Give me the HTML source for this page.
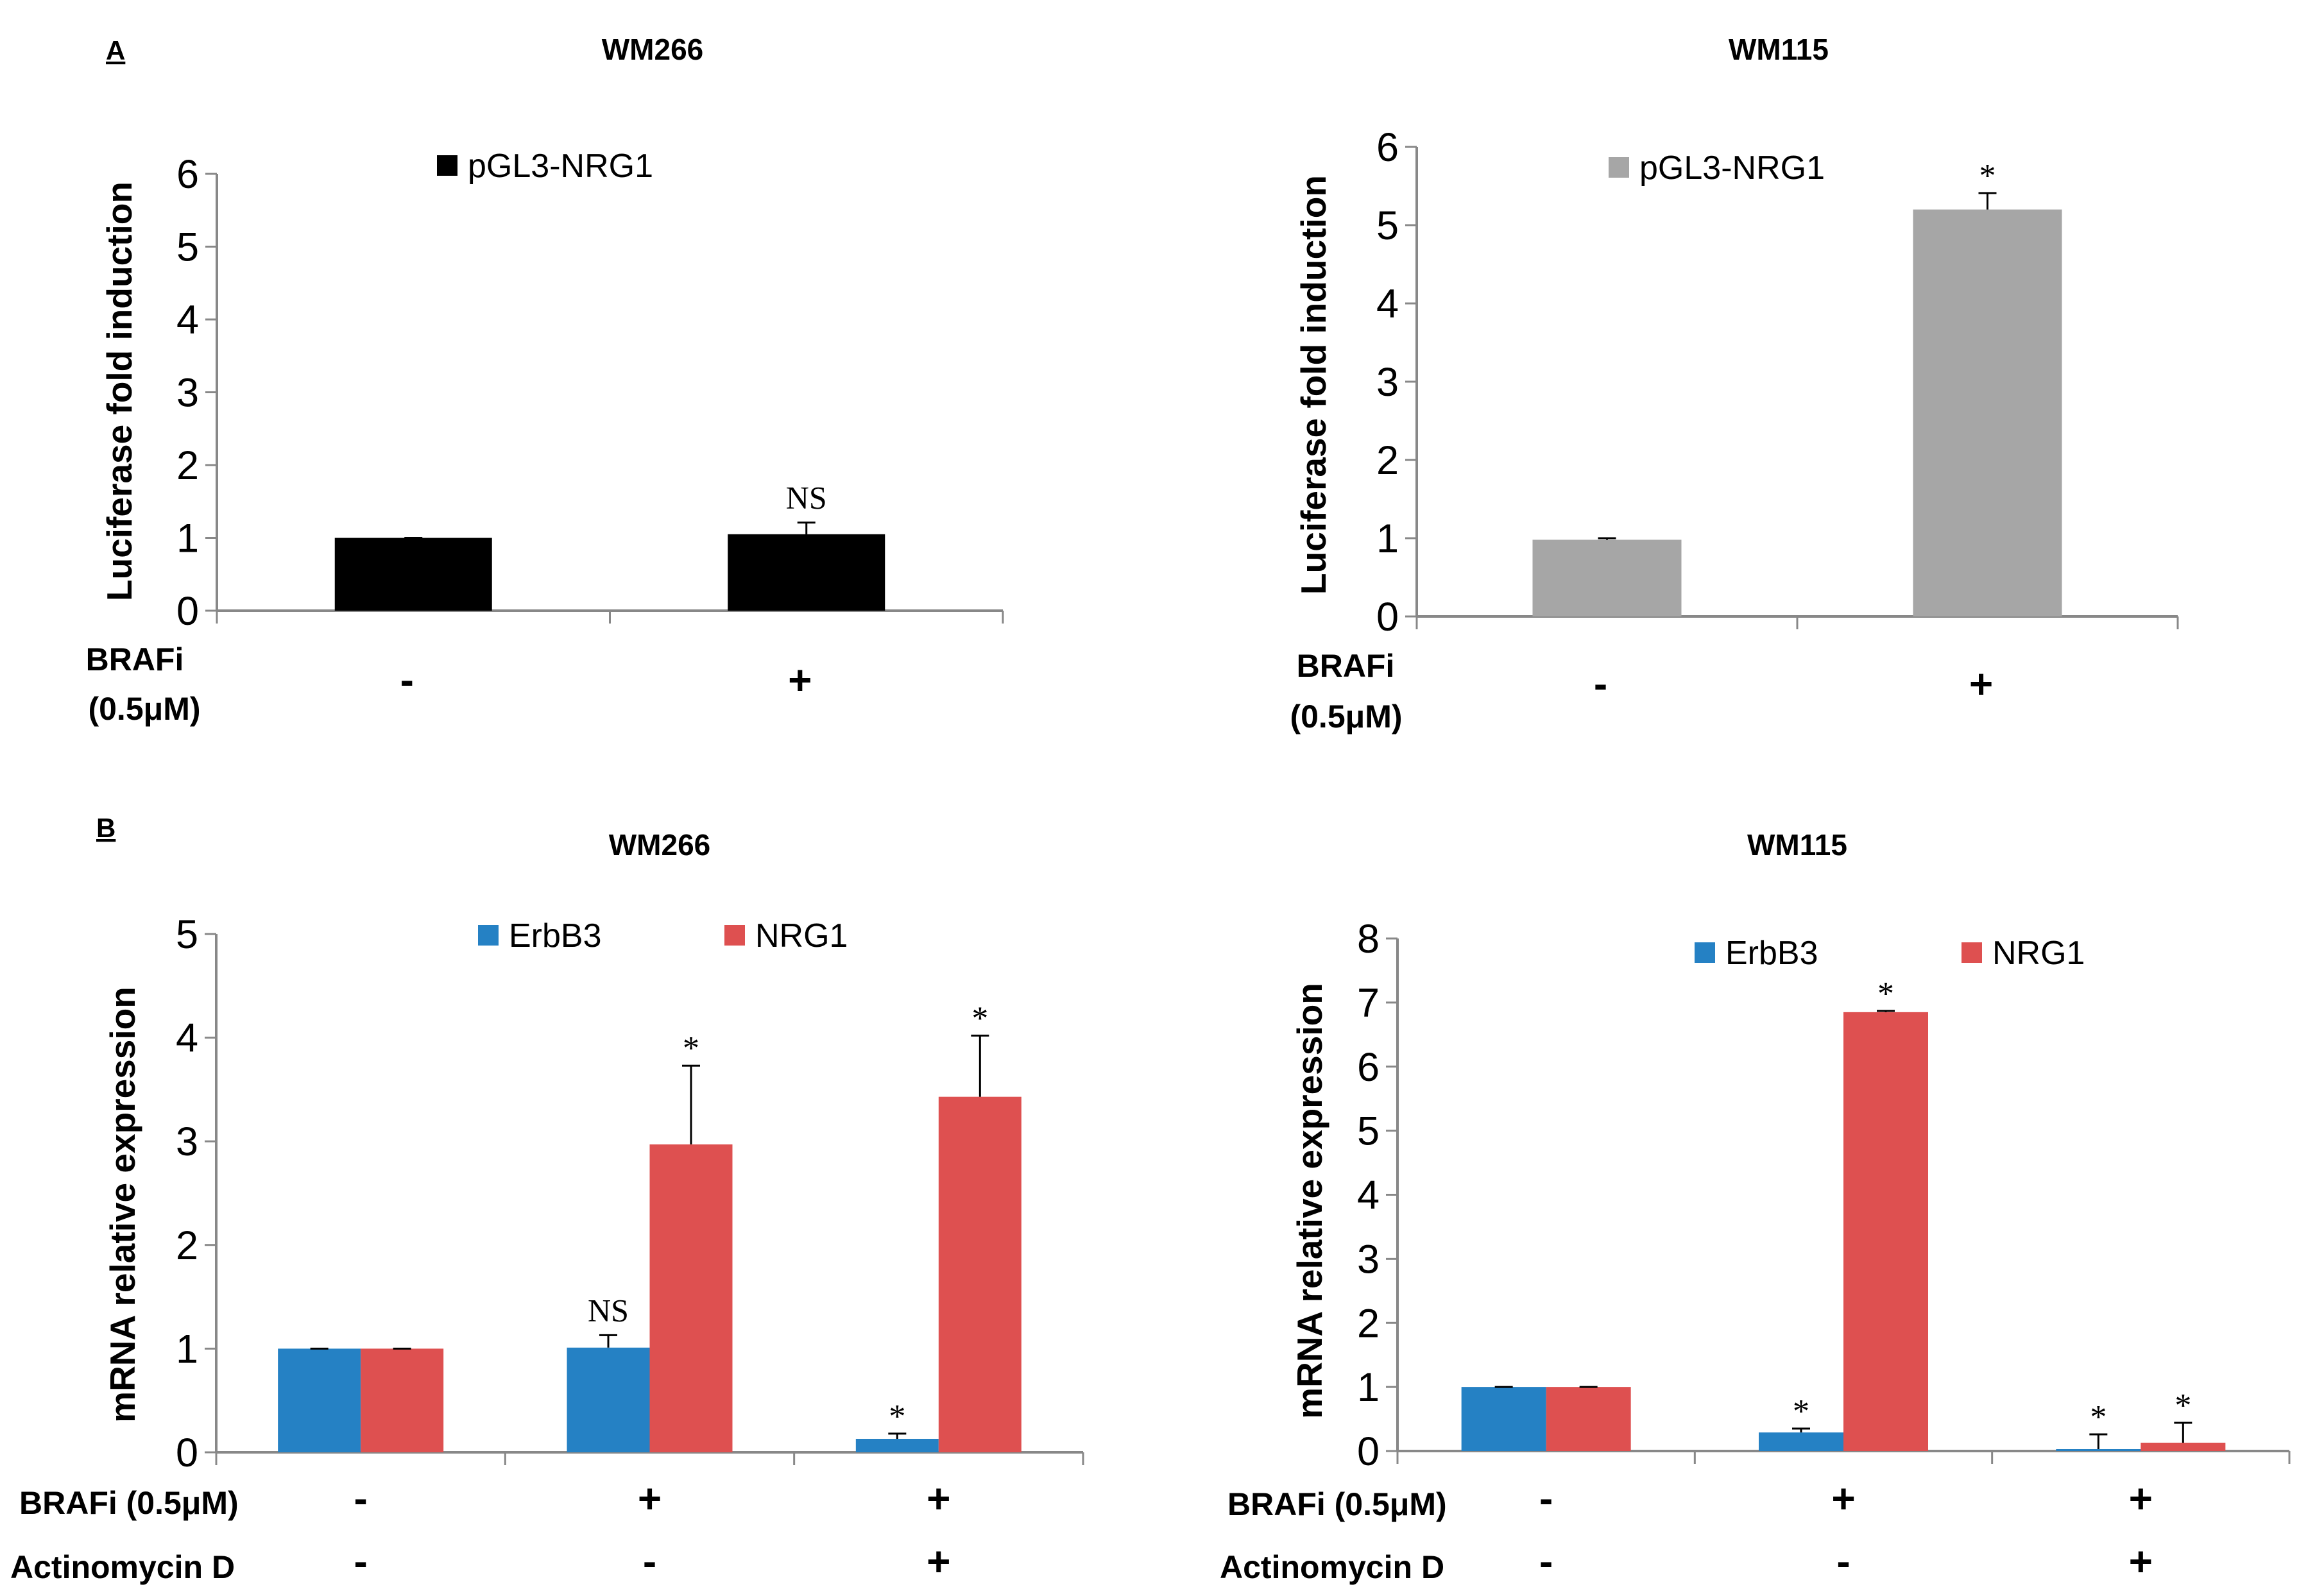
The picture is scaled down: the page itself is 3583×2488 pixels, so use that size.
<!DOCTYPE html>
<html><head><meta charset="utf-8"><style>
html,body{margin:0;padding:0;background:#fff;}
svg{display:block;}
.t{font-family:"Liberation Sans",sans-serif;}
</style></head><body>
<svg id="fig" width="3583" height="2488" viewBox="0 0 3583 2488" xmlns="http://www.w3.org/2000/svg">
<g class="t" font-weight="bold" fill="#000">
<text x="165" y="93" font-size="42" text-decoration="underline">A</text>
<text x="1017" y="93" font-size="46" text-anchor="middle">WM266</text>
<text x="2772" y="93" font-size="46" text-anchor="middle">WM115</text>
<text x="150" y="1305" font-size="42" text-decoration="underline">B</text>
<text x="1028" y="1333" font-size="46" text-anchor="middle">WM266</text>
<text x="2801" y="1333" font-size="46" text-anchor="middle">WM115</text>
</g>
<g id="charts"></g>
</svg>
<script>
// Panel A WM266
const aLeftCats = ["-", "+"];
const aLeftVals = [1.0, 1.05];
const aLeftErr = [1.0, 1.21];
const aLeftAnn = ["", "NS"];
const aLeftTicks = ["0","1","2","3","4","5","6"];
// Panel A WM115
const aRightCats = ["-", "+"];
const aRightVals = [0.98, 5.2];
const aRightErr = [1.0, 5.41];
const aRightAnn = ["", "*"];
const aRightTicks = ["0","1","2","3","4","5","6"];
// Panel B WM266
const bLeftBrafi = ["-", "+", "+"];
const bLeftActD = ["-", "-", "+"];
const bLeftErbB3 = [1.0, 1.01, 0.13];
const bLeftErbB3Err = [1.0, 1.13, 0.18];
const bLeftErbB3Ann = ["", "NS", "*"];
const bLeftNRG1 = [1.0, 2.97, 3.43];
const bLeftNRG1Err = [1.0, 3.73, 4.02];
const bLeftNRG1Ann = ["", "*", "*"];
const bLeftTicks = ["0","1","2","3","4","5"];
// Panel B WM115
const bRightBrafi = ["-", "+", "+"];
const bRightActD = ["-", "-", "+"];
const bRightErbB3 = [1.0, 0.29, 0.03];
const bRightErbB3Err = [1.0, 0.35, 0.26];
const bRightErbB3Ann = ["", "*", "*"];
const bRightNRG1 = [1.0, 6.85, 0.13];
const bRightNRG1Err = [1.0, 6.87, 0.44];
const bRightNRG1Ann = ["", "*", "*"];
const bRightTicks = ["0","1","2","3","4","5","6","7","8"];

const NS = "http://www.w3.org/2000/svg";
const root = document.getElementById("charts");
function mk(tag, attrs, parent, txt){
  const e = document.createElementNS(NS, tag);
  for (const k in attrs) e.setAttribute(k, attrs[k]);
  if (txt !== undefined) e.textContent = txt;
  (parent||root).appendChild(e);
  return e;
}

function chart(cfg){
  const g = mk("g", {});
  
  
  const ymax = cfg.ticks.length - 1;
  const y = v => cfg.y0 - (v / ymax) * (cfg.y0 - cfg.yTop);
  const n = cfg.series[0].vals.length;
  const slot = (cfg.xEnd - cfg.x0) / n;
  const xc = i => cfg.x0 + slot * (i + 0.5);
  const ax = mk("line", {x1:cfg.x0, y1:cfg.yTop, x2:cfg.x0, y2:cfg.y0, stroke:"#888", "stroke-width":4}, g);
  
  
  const xa = mk("line", {x1:cfg.x0, y1:cfg.y0, x2:cfg.xEnd, y2:cfg.y0, stroke:"#888", "stroke-width":4}, g);
  
  
  for (let i = 0; i <= n; i++){
    const xx = cfg.x0 + slot * i;
    const tk = mk("line", {x1:xx, y1:cfg.y0, x2:xx, y2:cfg.y0+20, stroke:"#888", "stroke-width":3}, g);
    
    
  }
  cfg.ticks.forEach((t, i) => {
    const yy = y(i);
    const tl = mk("line", {x1:cfg.x0-18, y1:yy, x2:cfg.x0, y2:yy, stroke:"#888", "stroke-width":3}, g);
    
    
    const tt = mk("text", {x:cfg.x0-28, y:yy+22, "font-size":63, "text-anchor":"end", class:"t", fill:"#000"}, g, t);
    
    
  });
  const yt = mk("text", {x:0, y:0, "font-size":55, "font-weight":"bold", "text-anchor":"middle", class:"t", fill:"#000",
    transform:"translate("+cfg.ytX+","+cfg.ytY+") rotate(-90)"}, g, cfg.ytitle);
  
  
  const ns = cfg.series.length;
  const bw = cfg.barW;
  cfg.series.forEach((s, si) => {
    s.vals.forEach((v, i) => {
      const left = xc(i) - bw*ns/2 + bw*si;
      const b = mk("rect", {x:left, y:y(v), width:bw, height:cfg.y0 - y(v), fill:s.color}, g);
      
      
      const cx = left + bw/2;
      const e = s.err[i];
      if (e > v){
        const el = mk("path", {d:"M"+cx+","+y(v)+"V"+y(e)+"M"+(cx-14)+","+y(e)+"H"+(cx+14), stroke:"#000", "stroke-width":3, fill:"none"}, g);
        
        
      } else {
        const el = mk("path", {d:"M"+(cx-14)+","+y(v)+"H"+(cx+14), stroke:"#000", "stroke-width":3}, g);
        
        
      }
      if (s.ann[i]){
        const a = mk("text", {x:cx, y:y(Math.max(e,v)) - (s.ann[i]==="*"?10:22), "font-size":s.ann[i]==="*"?52:50, "text-anchor":"middle", "font-family":"Liberation Serif, serif", fill:"#000"}, g, s.ann[i]);
        
        
      }
    });
  });
  cfg.legend.forEach(l => {
    const sq = mk("rect", {x:l.x, y:l.y, width:32, height:32, fill:l.color}, g);
    
    
    const lt = mk("text", {x:l.x+48, y:l.y+34, "font-size":52, class:"t", fill:"#000"}, g, l.label);
    
    
  });
  cfg.rows.forEach(r => {
    r.vals.forEach((c, i) => {
      const ct = mk("text", {x:xc(i) + (cfg.rowShift||0), y:r.y, "font-size":64, "font-weight":"bold", "text-anchor":"middle", class:"t", fill:"#000"}, g, c);
      
      
    });
    r.labels.forEach(L => {
      const rl = mk("text", {x:L.x, y:L.y, "font-size":50, "font-weight":"bold", "text-anchor":L.anchor||"start", class:"t", fill:"#000"}, g, L.text);
      
      
    });
  });
}

chart({name:"chart-a-wm266", x0:338, xEnd:1563, y0:952, yTop:271, barW:245, ticks:aLeftTicks,
  ytitle:"Luciferase fold induction", ytX:205, ytY:610,
  series:[{key:"pgl3", vals:aLeftVals, err:aLeftErr, ann:aLeftAnn, color:"#000"}],
  legend:[{x:681, y:242, color:"#000", label:"pGL3-NRG1"}],
  rows:[{y:1082, vals:aLeftCats, labels:[{x:210,y:1045,text:"BRAFi",anchor:"middle"},{x:225,y:1122,text:"(0.5μM)",anchor:"middle"}]}], rowShift:-10});

chart({name:"chart-a-wm115", x0:2208, xEnd:3394, y0:961, yTop:229, barW:232, ticks:aRightTicks,
  ytitle:"Luciferase fold induction", ytX:2066, ytY:600,
  series:[{key:"pgl3", vals:aRightVals, err:aRightErr, ann:aRightAnn, color:"#a6a6a6"}],
  legend:[{x:2507, y:245, color:"#a6a6a6", label:"pGL3-NRG1"}],
  rows:[{y:1088, vals:aRightCats, labels:[{x:2097,y:1055,text:"BRAFi",anchor:"middle"},{x:2098,y:1134,text:"(0.5μM)",anchor:"middle"}]}], rowShift:-10});

chart({name:"chart-b-wm266", x0:337, xEnd:1688, y0:2264, yTop:1456, barW:129, ticks:bLeftTicks,
  ytitle:"mRNA relative expression", ytX:210, ytY:1878,
  series:[{key:"erbb3", vals:bLeftErbB3, err:bLeftErbB3Err, ann:bLeftErbB3Ann, color:"#2581c4"},
          {key:"nrg1", vals:bLeftNRG1, err:bLeftNRG1Err, ann:bLeftNRG1Ann, color:"#de5050"}],
  legend:[{x:745, y:1442, color:"#2581c4", label:"ErbB3"},{x:1129, y:1442, color:"#de5050", label:"NRG1"}],
  rows:[{y:2358, vals:bLeftBrafi, labels:[{x:30,y:2360,text:"BRAFi (0.5μM)"}]},
        {y:2456, vals:bLeftActD, labels:[{x:16,y:2460,text:"Actinomycin D"}]}], rowShift:0});

chart({name:"chart-b-wm115", x0:2178, xEnd:3568, y0:2262, yTop:1463, barW:132, ticks:bRightTicks,
  ytitle:"mRNA relative expression", ytX:2060, ytY:1872,
  series:[{key:"erbb3", vals:bRightErbB3, err:bRightErbB3Err, ann:bRightErbB3Ann, color:"#2581c4"},
          {key:"nrg1", vals:bRightNRG1, err:bRightNRG1Err, ann:bRightNRG1Ann, color:"#de5050"}],
  legend:[{x:2641, y:1469, color:"#2581c4", label:"ErbB3"},{x:3057, y:1469, color:"#de5050", label:"NRG1"}],
  rows:[{y:2358, vals:bRightBrafi, labels:[{x:1913,y:2362,text:"BRAFi (0.5μM)"}]},
        {y:2456, vals:bRightActD, labels:[{x:1901,y:2460,text:"Actinomycin D"}]}], rowShift:0});
</script>
</body></html>
